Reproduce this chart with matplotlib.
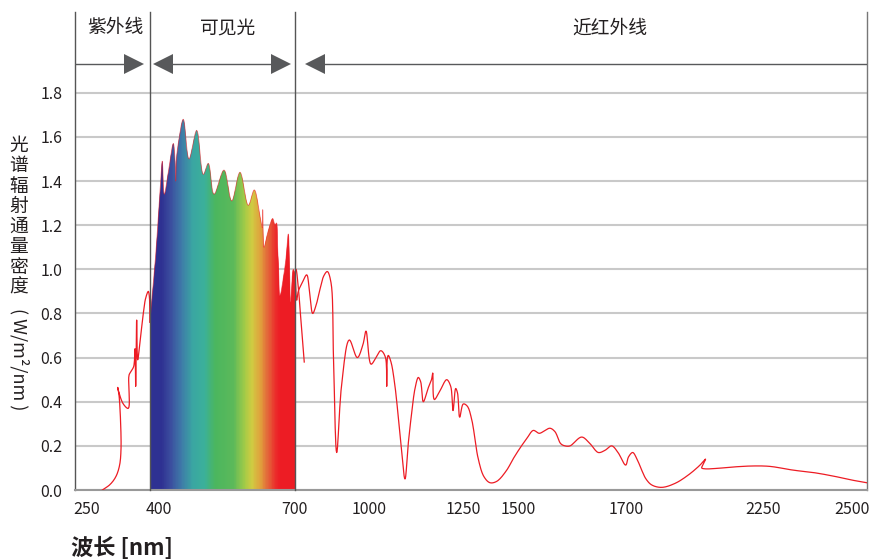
import numpy as np
import matplotlib
matplotlib.use('Agg')
import matplotlib.pyplot as plt
from matplotlib.colors import LinearSegmentedColormap

plt.rcParams['font.family'] = ['Noto Sans CJK SC', 'DejaVu Sans']

# the drawn wavelength axis is not evenly spaced: nm -> position along the axis
axis_nm = [0, 225, 250, 400, 700, 1000, 1250, 1500, 1700, 2250, 2500, 2542, 5000]
axis_pos = [-33, 75, 87, 159, 294.5, 369.5, 463, 518.7, 626, 763, 852, 867, 1745]

xticks = [250, 400, 700, 1000, 1250, 1500, 1700, 2250, 2500]
yticks = [0.0, 0.2, 0.4, 0.6, 0.8, 1.0, 1.2, 1.4, 1.6, 1.8]

# ultraviolet part (line only)
uv_nm = [282, 298, 310, 317.7, 320.8, 319.8, 316.7, 314, 315.5, 325.6, 336, 337.5,
         341, 347.3, 350, 351.4, 353.5, 355.6, 360.4, 367.3, 372.3, 377.7, 379.8, 381]
uv_val = [0.0, 0.025, 0.06, 0.11, 0.18, 0.32, 0.43, 0.465, 0.45, 0.39, 0.37, 0.52,
          0.535, 0.56, 0.64, 0.47, 0.77, 0.59, 0.67, 0.80, 0.87, 0.90, 0.88, 0.76]

# visible part (filled with the spectrum)
vis_nm = [381, 387.5, 393.7, 399, 403.3, 407.3, 411.7, 420.6, 431.7, 435.4, 437, 438.7,
          442.7, 453.8, 466.4, 483.5, 498.1, 509.2, 521.8, 543.9, 561, 579.3, 597.7,
          611, 623.6, 628.7, 629.6, 630.7, 632.5, 641.3, 651.7, 656.8, 660.1, 662.4,
          664.1, 667.9, 674.5, 681.2, 686.3, 691.6, 697.3, 702]
vis_val = [0.76, 0.92, 1.08, 1.25, 1.38, 1.49, 1.34, 1.44, 1.57, 1.50, 1.40, 1.50,
           1.57, 1.68, 1.50, 1.63, 1.43, 1.48, 1.34, 1.45, 1.31, 1.44, 1.29,
           1.36, 1.24, 1.19, 1.27, 1.16, 1.10, 1.17, 1.23, 1.20, 1.21, 1.10,
           1.04, 0.88, 0.95, 1.05, 1.16, 0.85, 1.00, 0.98]

# near infrared part (line only)
nir_nm = [704, 708.8, 715, 731.2, 748.8, 760, 772.8, 787, 802, 817, 831.2, 846, 856, 868.8,
          888.8, 919.2, 951.2, 974, 986, 1004, 1017.4, 1028.1, 1032.6, 1042.8, 1046, 1048,
          1050.3, 1057.5, 1068.2, 1081.6, 1094.9, 1103, 1112.8, 1121.7, 1130.5, 1136.9,
          1143.9, 1156.4, 1165.8, 1169, 1173.3, 1188.5, 1206.4, 1217.1, 1223.3, 1230.5,
          1235.3, 1241.2, 1251.3, 1269.3, 1289, 1318.7, 1344.3, 1371.2, 1402.6, 1446.2,
          1474.4, 1502.4, 1515.5, 1527.2, 1538.4, 1549, 1558.3, 1567.7, 1578.3, 1586.3,
          1595.6, 1617.4, 1632.9, 1648.4, 1660.9, 1673.4, 1685.1, 1699.4, 1710, 1726.9,
          1744.2, 1763, 1780.3, 1803.2, 1843.3, 1896.7, 1950.1, 1997.1, 2019.2, 2009.1,
          2004, 2017.2, 2064.2, 2137.6, 2211, 2269.7, 2335.1, 2396.1, 2457, 2500, 2541.3]
nir_val = [0.95, 0.86, 0.90, 0.94, 0.975, 0.90, 0.80, 0.84, 0.91, 0.97, 0.99, 0.94, 0.60, 0.17,
           0.48, 0.68, 0.60, 0.66, 0.72, 0.57, 0.60, 0.63, 0.63, 0.60, 0.47, 0.60,
           0.61, 0.58, 0.47, 0.25, 0.05, 0.20, 0.35, 0.46, 0.51, 0.49,
           0.40, 0.46, 0.50, 0.53, 0.41, 0.45, 0.50, 0.47, 0.36, 0.46,
           0.44, 0.33, 0.39, 0.38, 0.32, 0.14, 0.06, 0.033, 0.04, 0.09,
           0.14, 0.19, 0.235, 0.27, 0.257, 0.27, 0.28, 0.264, 0.21, 0.20,
           0.20, 0.24, 0.21, 0.17, 0.18, 0.20, 0.17, 0.113, 0.15, 0.17,
           0.14, 0.09, 0.05, 0.023, 0.012, 0.03, 0.068, 0.113, 0.14, 0.115,
           0.10, 0.096, 0.098, 0.105, 0.109, 0.107, 0.09, 0.078, 0.06, 0.045, 0.033]

# short stray stroke just after 700 nm
nir_branch_nm = [702, 706, 715, 725, 739]
nir_branch_val = [0.98, 1.0, 0.92, 0.78, 0.58]

spectrum_nm = [381, 405, 425, 450, 475, 500, 525, 565, 590, 606, 625, 640, 660, 668, 702]
spectrum_col = ['#2e3192', '#2e3192', '#3b4d9e', '#3e7ba8', '#3aa6a2', '#3bb09a', '#4bb65e',
                '#5cb95a', '#a2cb47', '#d0cb42', '#e0a03c', '#e36a3a', '#eb2a2a', '#ed1c24',
                '#ed1c24']

bands = ['紫外线', '可见光', '近红外线']
band_label_nm = [308, 552, 1670]
band_edges = [381, 702]


def fwd(x):
    return np.interp(x, axis_nm, axis_pos)


def inv(x):
    return np.interp(x, axis_pos, axis_nm)


def smooth(nm, val, n=10):
    # centripetal catmull-rom through the points, worked out in axis position space
    p = np.column_stack([fwd(np.asarray(nm, float)), np.asarray(val, float) * 220.0])
    p = np.vstack([2 * p[0] - p[1], p, 2 * p[-1] - p[-2]])
    out = []
    for i in range(1, len(p) - 2):
        p0, p1, p2, p3 = p[i - 1], p[i], p[i + 1], p[i + 2]
        t0 = 0.0
        t1 = t0 + max(np.linalg.norm(p1 - p0), 1e-6) ** 0.5
        t2 = t1 + max(np.linalg.norm(p2 - p1), 1e-6) ** 0.5
        t3 = t2 + max(np.linalg.norm(p3 - p2), 1e-6) ** 0.5
        t = np.linspace(t1, t2, n, endpoint=False)[:, None]
        a1 = (t1 - t) / (t1 - t0) * p0 + (t - t0) / (t1 - t0) * p1
        a2 = (t2 - t) / (t2 - t1) * p1 + (t - t1) / (t2 - t1) * p2
        a3 = (t3 - t) / (t3 - t2) * p2 + (t - t2) / (t3 - t2) * p3
        b1 = (t2 - t) / (t2 - t0) * a1 + (t - t0) / (t2 - t0) * a2
        b2 = (t3 - t) / (t3 - t1) * a2 + (t - t1) / (t3 - t1) * a3
        out.append((t2 - t) / (t2 - t1) * b1 + (t - t1) / (t2 - t1) * b2)
    out.append(p[-2][None, :])
    out = np.vstack(out)
    return inv(out[:, 0]), np.clip(out[:, 1] / 220.0, 0, None)


fig = plt.figure(figsize=(8.74, 5.59), dpi=100)
ax = fig.add_axes([0.0858, 0.1234, 0.9062, 0.8551])
ax.set_xscale('function', functions=(fwd, inv))
ax.set_xlim(225, 2542)
ax.set_ylim(0, 2.166)

red = '#ed1c24'

# spectrum fill: thin coloured bands clipped to the area under the visible curve
vx, vy = smooth(vis_nm, vis_val)
poly = ax.fill(np.r_[vx, vx[-1], vx[0]], np.r_[vy, 0, 0], fc='none', ec='none')[0]
lo, hi = spectrum_nm[0], spectrum_nm[-1]
stops = [(n - lo) / (hi - lo) for n in spectrum_nm]
cmap = LinearSegmentedColormap.from_list('spec', list(zip(stops, spectrum_col)))
edges = np.linspace(lo, hi, 241)
for a, b in zip(edges[:-1], edges[1:]):
    c = cmap(((a + b) / 2 - lo) / (hi - lo))
    span = ax.axvspan(a, min(b + (b - a) * 0.6, hi), color=c, lw=0, zorder=2)
    span.set_clip_path(poly)
ax.plot(vx, vy, color=red, lw=0.6, alpha=0.6, zorder=3)

for nm, val in [(uv_nm, uv_val), (nir_nm, nir_val), (nir_branch_nm, nir_branch_val)]:
    sx, sy = smooth(nm, val)
    ax.plot(sx, sy, color=red, lw=0.9, zorder=3)

# band boundaries
for e in band_edges:
    ax.plot([e, e], [0, 2.166], color='#555555', lw=1.0, zorder=4, clip_on=False)

# band arrows
arrow_y = 1.93
grey = '#58595b'
ax.plot([225, 347], [arrow_y, arrow_y], color=grey, lw=1.0, zorder=4)
ax.plot([409, 671], [arrow_y, arrow_y], color=grey, lw=1.0, zorder=4)
ax.plot([781, 2542], [arrow_y, arrow_y], color=grey, lw=1.0, zorder=4)
ax.plot([347, 671], [arrow_y, arrow_y], '>', color=grey, ms=15, mew=0, zorder=5, ls='none')
ax.plot([409, 781], [arrow_y, arrow_y], '<', color=grey, ms=15, mew=0, zorder=5, ls='none')

for name, x in zip(bands, band_label_nm):
    ax.text(x, 2.095, name, ha='center', va='center', fontsize=13.5, color='#231f20')

ax.set_xticks(xticks)
ax.set_xticklabels([str(t) for t in xticks])
ax.set_yticks(yticks)
ax.set_yticklabels(['%.1f' % t for t in yticks])
ax.tick_params(length=0, labelsize=11.5, colors='#231f20')
ax.tick_params(axis='y', pad=9)
ax.tick_params(axis='x', pad=8)
ax.yaxis.grid(True, color='#c9c9c9', lw=1.5)
ax.set_axisbelow(True)

ax.spines['top'].set_visible(False)
ax.spines['left'].set_color('#555555')
ax.spines['left'].set_linewidth(1.0)
ax.spines['right'].set_color('#777777')
ax.spines['right'].set_linewidth(1.0)
ax.spines['bottom'].set_color('#999999')
ax.spines['bottom'].set_linewidth(1.5)

# y label: upright stacked characters, then the unit turned sideways
fig.text(19 / 874, 1 - 216.5 / 559, '\n'.join('光谱辐射通量密度'), ha='center', va='center',
         fontsize=13.5, linespacing=0.95, color='#231f20')
fig.text(19 / 874, 1 - 359 / 559, '( W/m²/nm )', ha='center', va='center', rotation=270,
         fontsize=13, color='#231f20')

fig.text(71 / 874, 1 - 548 / 559, '波长 [nm]', ha='left', va='center', fontsize=16,
         fontweight='bold', color='#231f20')

fig.savefig('out.png', dpi=100)
